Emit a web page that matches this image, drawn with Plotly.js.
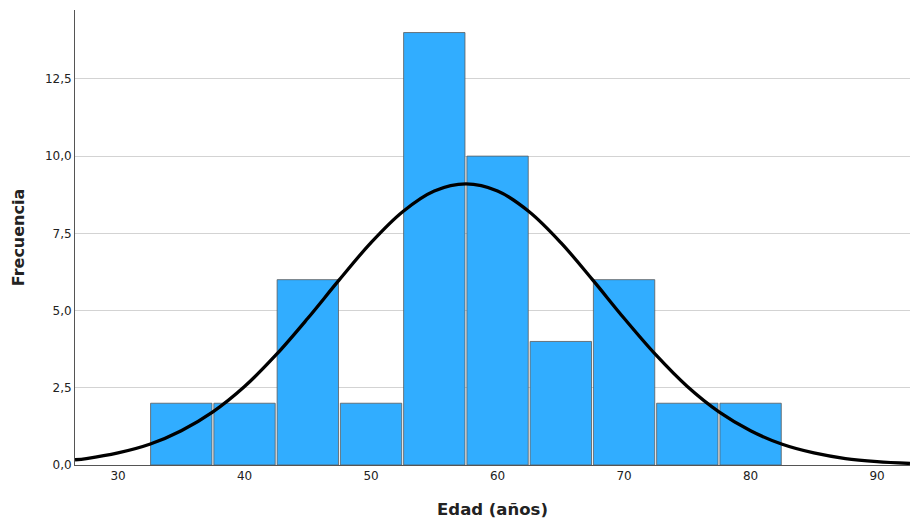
<!DOCTYPE html>
<html>
<head>
<meta charset="utf-8">
<script src="https://cdn.plot.ly/plotly-3.0.1.min.js"></script>
<style>html,body{margin:0;padding:0;background:#fff;}#chart{width:910px;height:521px;}</style>
</head>
<body>
<div id="chart"></div>
<script>
// Histogram bins (centres, age in years) and frequencies
const binCenters = [35, 40, 45, 50, 55, 60, 65, 70, 75, 80];
const frequencies = [2, 2, 6, 2, 14, 10, 4, 6, 2, 2];
// Normal curve, points
const curveX = [26.6, 27.5, 30, 32.5, 35, 37.5, 40, 42.5, 45, 47.5, 50, 52.5, 55, 57.5, 60, 62.5, 65, 67.5, 70, 72.5, 75, 77.5, 80, 82.5, 85, 87.5, 90, 92.6];
const curveY = [0.17, 0.21, 0.39, 0.67, 1.11, 1.72, 2.54, 3.57, 4.75, 6.00, 7.20, 8.20, 8.87, 9.10, 8.87, 8.20, 7.20, 6.00, 4.75, 3.57, 2.54, 1.72, 1.11, 0.67, 0.39, 0.21, 0.11, 0.05];
const xTicks = [30, 40, 50, 60, 70, 80, 90];
const yTicks = [0, 2.5, 5, 7.5, 10, 12.5];
const yTickLabels = ["0,0", "2,5", "5,0", "7,5", "10,0", "12,5"];

const traces = [
  {
    type: 'bar',
    x: binCenters,
    y: frequencies,
    width: 4.85,
    marker: {color: '#31adff', line: {color: '#5a5a5a', width: 0.8}},
    hoverinfo: 'x+y'
  },
  {
    type: 'scatter',
    mode: 'lines',
    x: curveX,
    y: curveY,
    line: {color: '#000000', width: 3.3, shape: 'spline'},
    hoverinfo: 'skip'
  }
];

const layout = {
  width: 910,
  height: 521,
  margin: {l: 75, r: 0, t: 10, b: 56},
  paper_bgcolor: '#ffffff',
  plot_bgcolor: '#ffffff',
  showlegend: false,
  font: {family: 'DejaVu Sans, sans-serif', size: 12, color: '#222'},
  xaxis: {
    range: [26.6, 92.6],
    tickvals: xTicks,
    ticktext: xTicks.map(String),
    showgrid: false,
    zeroline: false,
    showline: true,
    linecolor: '#555',
    linewidth: 1,
    ticks: '',
    tickfont: {size: 12, color: '#222'},
    title: {text: 'Edad (años)', font: {size: 16.5, color: '#222', family: 'DejaVu Sans, sans-serif', weight: 'bold'}, standoff: 21}
  },
  yaxis: {
    range: [0, 14.73],
    tickvals: yTicks,
    ticktext: yTickLabels,
    showgrid: true,
    gridcolor: '#d3d3d3',
    gridwidth: 1,
    zeroline: false,
    showline: true,
    linecolor: '#555',
    linewidth: 1,
    ticks: '',
    tickfont: {size: 12, color: '#222'},
    title: {text: 'Frecuencia', font: {size: 16, color: '#222', family: 'DejaVu Sans, sans-serif', weight: 'bold'}, standoff: 16}
  }
};

Plotly.newPlot('chart', traces, layout, {displayModeBar: false, staticPlot: true});
</script>
</body>
</html>
